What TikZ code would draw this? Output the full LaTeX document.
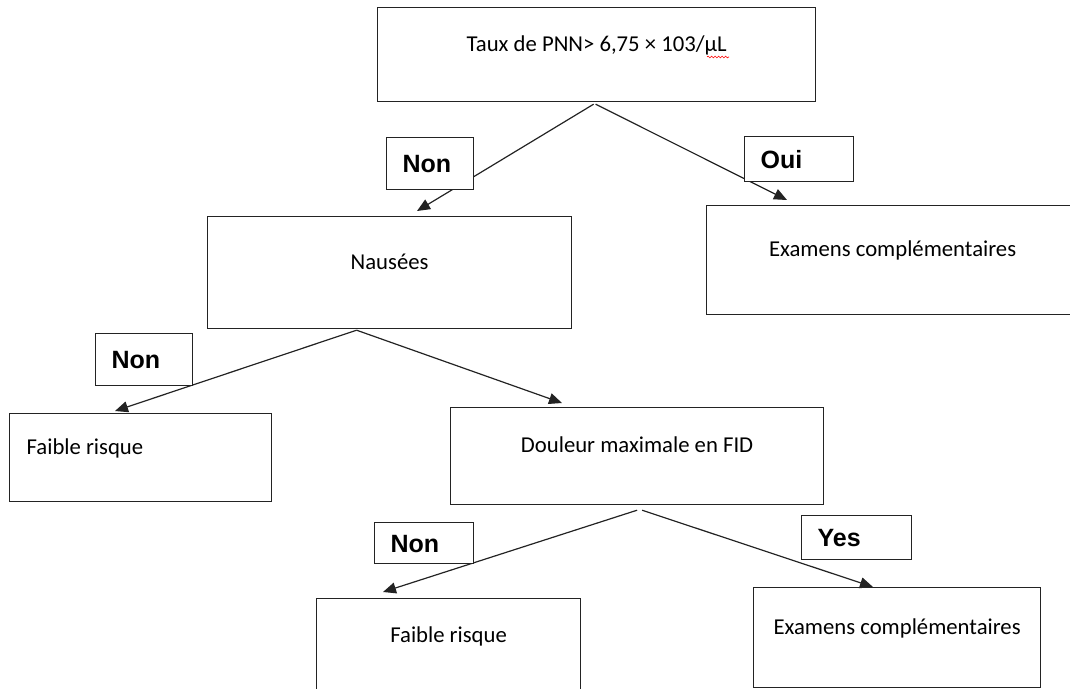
\documentclass[tikz,border=0pt]{standalone}
\usepackage{fontspec}
\setmainfont{Carlito}
\newfontfamily\labfont{Liberation Sans}
\usetikzlibrary{arrows.meta,calc,decorations.pathmorphing}
\definecolor{linec}{RGB}{35,35,35}
\tikzset{
  mainbox/.style={draw=linec, line width=1.2pt, fill=white, anchor=north west,
    font=\fontsize{22.7}{27}\selectfont, text height=16pt, text depth=23pt,
    inner xsep=0pt, inner ysep=0pt},
  labbox/.style={draw=linec, line width=1.2pt, fill=white, anchor=north west,
    font=\labfont\bfseries\fontsize{25}{30}\selectfont, align=left,
    inner xsep=16pt, inner ysep=0pt, text height=18pt, text depth=0pt},
  conn/.style={draw=linec, line width=1.2pt, -{Triangle[length=13pt,width=11pt]}}
}
\begin{document}
\begin{tikzpicture}[x=1pt,y=-1pt]
\useasboundingbox (0,0) rectangle (1070,688);
\clip (0,0) rectangle (1070,688);
% main boxes
\node[mainbox, minimum width=438pt, minimum height=94pt] (top) at (377,7) {Taux de PNN> 6,75 × 103/µL};
\node[mainbox, minimum width=364pt, minimum height=112pt] (naus) at (207,216) {Nausées};
\node[mainbox, minimum width=372pt, minimum height=109pt] (exam1) at (706,205) {Examens complémentaires};
\node[mainbox, minimum width=262pt, minimum height=88pt] (faible1) at (9,413) {\makebox[228pt][l]{Faible risque}};
\node[mainbox, minimum width=373pt, minimum height=97pt] (douleur) at (450,407) {Douleur maximale en FID};
\node[mainbox, minimum width=264pt, minimum height=94pt] (faible2) at (316,598) {Faible risque};
\node[mainbox, minimum width=287pt, minimum height=100pt] (exam2) at (753,587) {Examens complémentaires};
% spelling underline
\draw[red, line width=0.6pt, decorate, decoration={snake, amplitude=0.9pt, segment length=3.5pt}] (707,57) -- (729,57);
% connectors
\draw[conn] ($(top.south)+(-3,2)$) -- ($(naus.north west)+(210,-5)$);
\draw[conn] ($(top.south)+(-1,2)$) -- ($(exam1.north west)+(81,-5)$);
\draw[conn] ($(naus.south)+(-33,1)$) -- ($(faible1.north west)+(106,-2)$);
\draw[conn] ($(naus.south)+(-33,1)$) -- ($(douleur.north west)+(112,-4)$);
\draw[conn] ($(douleur.south)+(0,5)$) -- ($(faible2.north west)+(67,-6)$);
\draw[conn] ($(douleur.south)+(5,5)$) -- ($(exam2.north west)+(120,0)$);
% labels
\node[labbox, minimum width=87pt, minimum height=52pt, text width=55pt] (lnon1) at (386,137) {Non};
\node[labbox, minimum width=109pt, minimum height=45pt, text width=77pt] (loui) at (744,136) {Oui};
\node[labbox, minimum width=97pt, minimum height=52pt, text width=65pt] (lnon2) at (95,333) {Non};
\node[labbox, minimum width=99pt, minimum height=41pt, text width=67pt] (lnon3) at (374,522) {Non};
\node[labbox, minimum width=110pt, minimum height=44pt, text width=78pt] (lyes) at (801,515) {Yes};
\end{tikzpicture}
\end{document}
